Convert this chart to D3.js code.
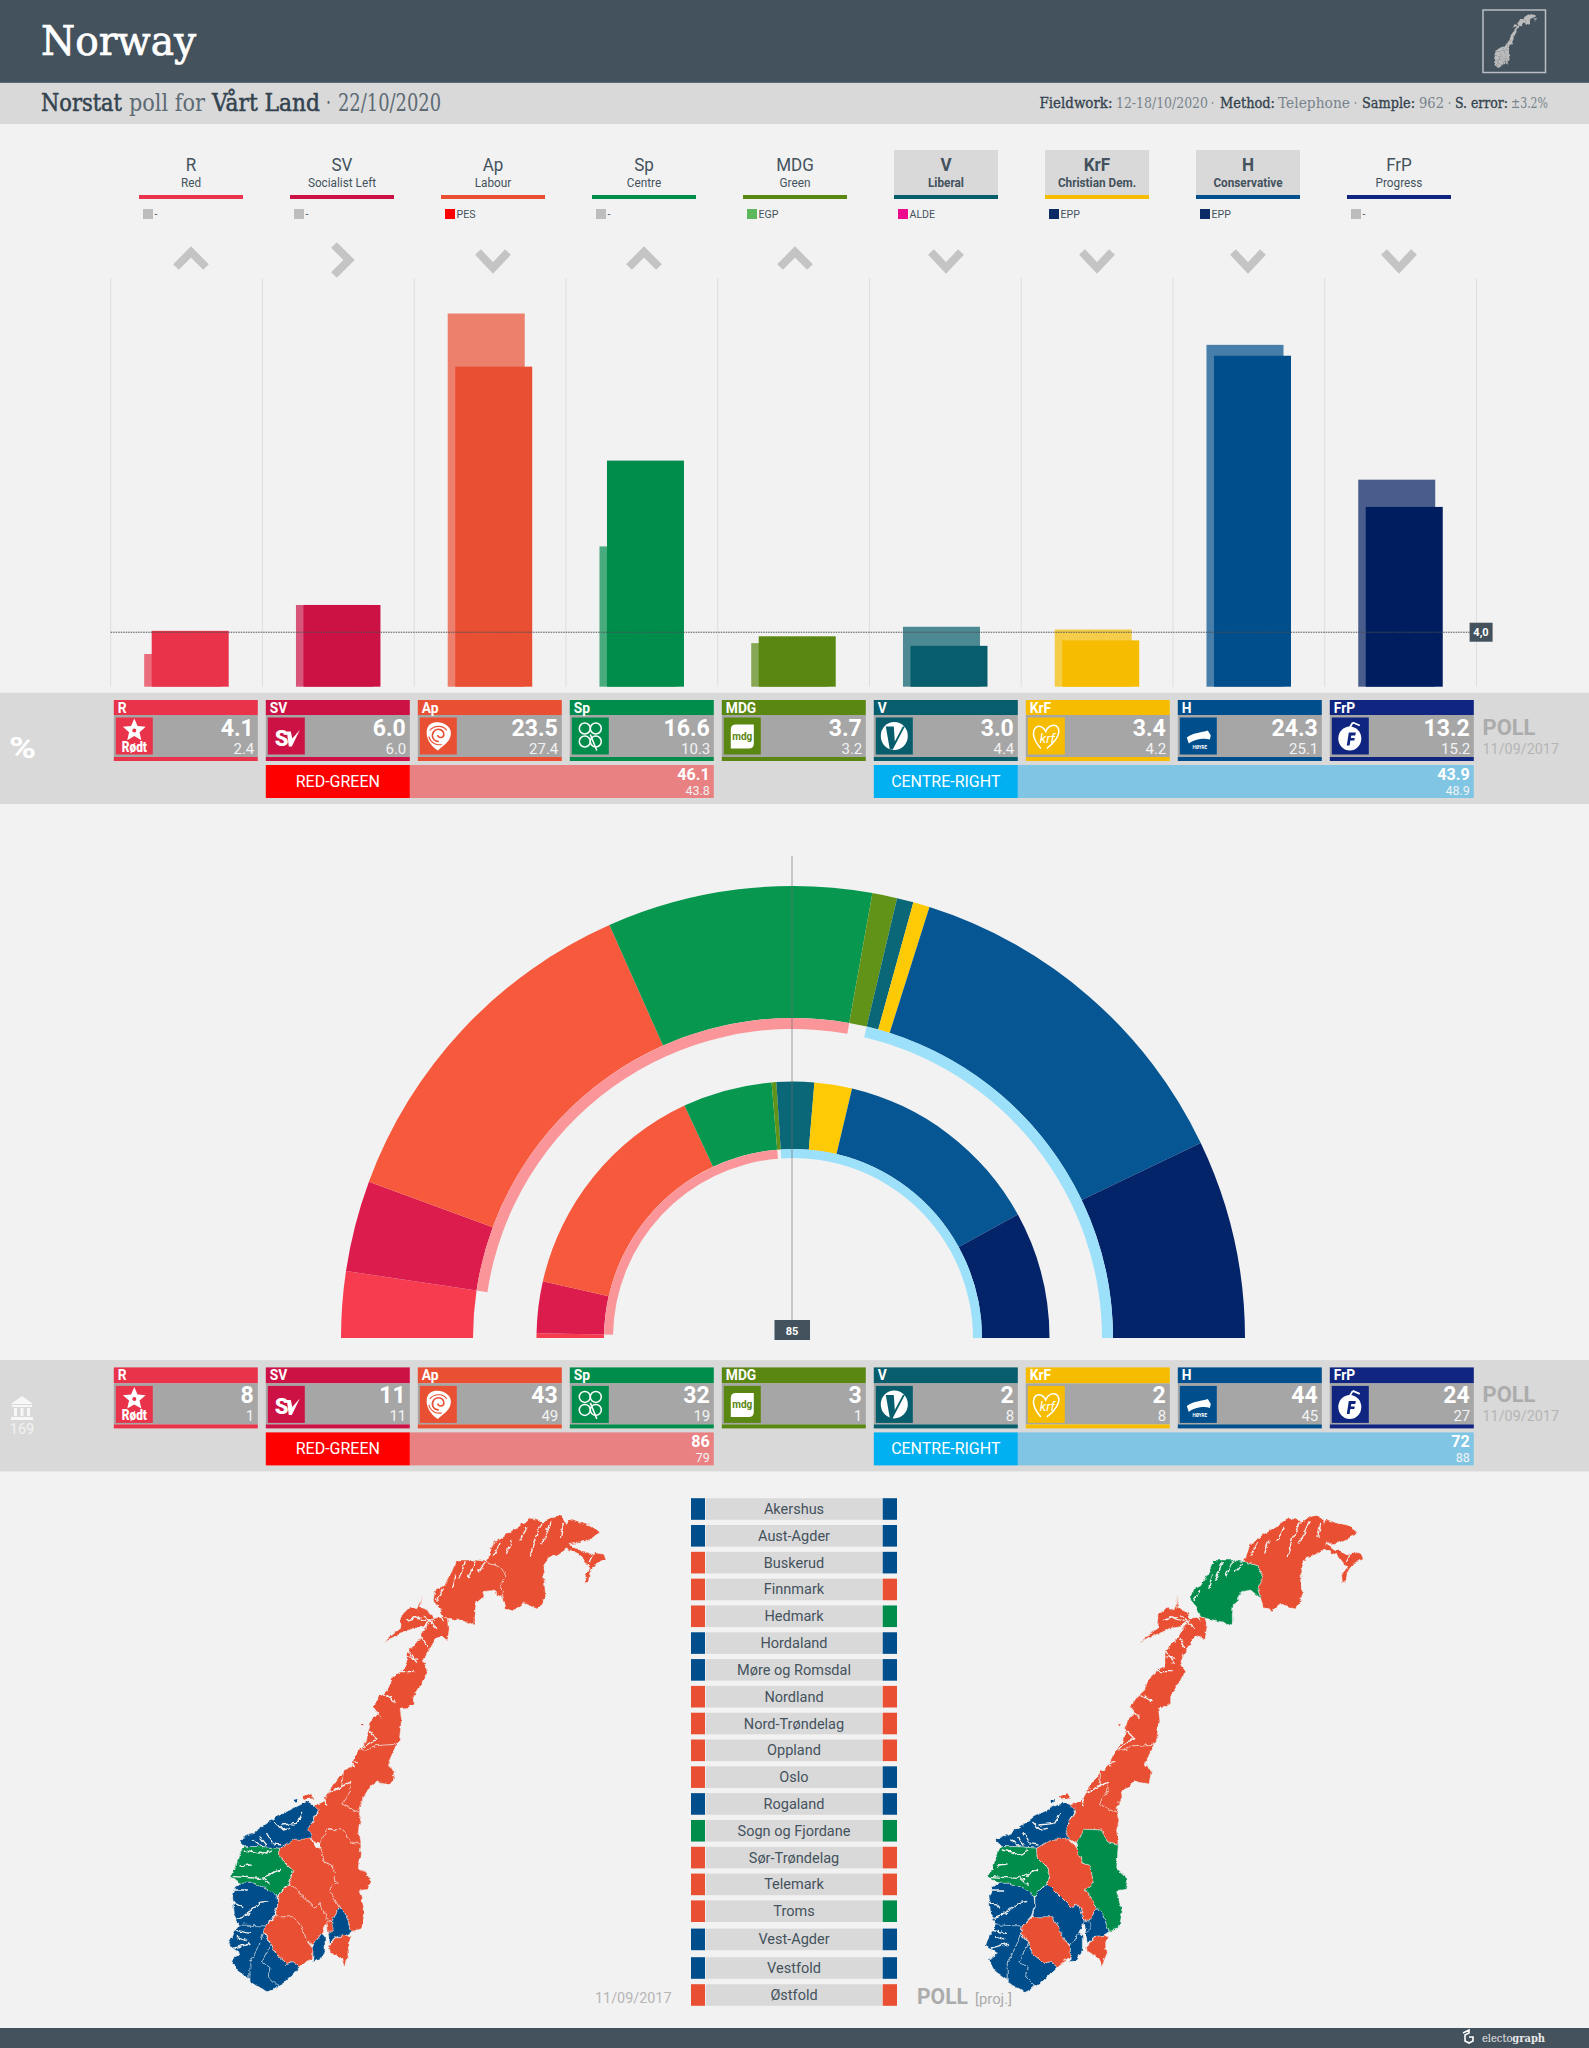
<!DOCTYPE html>
<html>
<head>
<meta charset="utf-8">
<title>Norway</title>
<script src="https://d3js.org/d3.v7.min.js"></script>
<style>
  html, body { margin: 0; background: #f2f2f2; }
  svg { display: block; }
  text { font-family: Roboto, sans-serif; }
  .slab text, text.slab { font-family: "DejaVu Serif Condensed", "DejaVu Serif", serif; }
</style>
</head>
<body>
<svg id="chart" width="1589" height="2048">
  <defs>
    <!-- serrilha a costa dos mapas -->
    <filter id="coast" filterUnits="userSpaceOnUse" x="150" y="1490" width="1300" height="530">
      <feTurbulence type="fractalNoise" baseFrequency="0.16" numOctaves="3" seed="4" result="n"/>
      <feDisplacementMap in="SourceGraphic" in2="n" scale="5" xChannelSelector="R" yChannelSelector="G"/>
    </filter>
  </defs>
</svg>
<script>
// --- dados ---
const parties = ['R', 'SV', 'Ap', 'Sp', 'MDG', 'V', 'KrF', 'H', 'FrP'];
const partyNames = ['Red', 'Socialist Left', 'Labour', 'Centre', 'Green', 'Liberal', 'Christian Dem.', 'Conservative', 'Progress'];
const euGroups = ['-', '-', 'PES', '-', 'EGP', 'ALDE', 'EPP', 'EPP', '-'];
const governing = ['V', 'KrF', 'H'];
const pollPct = [4.1, 6.0, 23.5, 16.6, 3.7, 3.0, 3.4, 24.3, 13.2];
const lastPct = [2.4, 6.0, 27.4, 10.3, 3.2, 4.4, 4.2, 25.1, 15.2];
const pollSeats = [8, 11, 43, 32, 3, 2, 2, 44, 24];
const lastSeats = [1, 11, 49, 19, 1, 8, 8, 45, 27];
const threshold = 4.0;
const majority = 85;
const totalSeats = 169;

const redGreen = ['SV', 'Ap', 'Sp'];
const centreRight = ['V', 'KrF', 'H', 'FrP'];
const blockPct = { rg: ['46.1', '43.8'], cr: ['43.9', '48.9'] };
const blockSeats = { rg: ['86', '79'], cr: ['72', '88'] };

const provinces = ['Akershus', 'Aust-Agder', 'Buskerud', 'Finnmark', 'Hedmark', 'Hordaland', 'Møre og Romsdal', 'Nordland', 'Nord-Trøndelag', 'Oppland', 'Oslo', 'Rogaland', 'Sogn og Fjordane', 'Sør-Trøndelag', 'Telemark', 'Troms', 'Vest-Agder', 'Vestfold', 'Østfold'];
const lastWinner = ['H', 'H', 'Ap', 'Ap', 'Ap', 'H', 'H', 'Ap', 'Ap', 'Ap', 'Ap', 'H', 'Sp', 'Ap', 'Ap', 'Ap', 'H', 'H', 'Ap'];
const pollWinner = ['H', 'H', 'H', 'Ap', 'Sp', 'H', 'H', 'Ap', 'Ap', 'Ap', 'H', 'H', 'Sp', 'Ap', 'Ap', 'Sp', 'H', 'H', 'Ap'];

// --- cores ---
const partyColors = ['#e8334a', '#cc1245', '#e95033', '#008d4b', '#5a8712', '#075d6b', '#f6bd00', '#004e8b', '#0f2580'];
const barColors = ['#e8334a', '#cc1245', '#e95033', '#008d4b', '#5a8712', '#075d6b', '#f6bd00', '#004e8b', '#001e5f'];
const arcColors = ['#f73c50', '#dd1c4e', '#f6593c', '#08974f', '#619318', '#0a6777', '#fec905', '#055693', '#04246a'];
const groupColors = { '-': '#bdbdbd', PES: '#ff0000', EGP: '#5cb85c', ALDE: '#ee0a8c', EPP: '#0c2a66' };
const dark = '#44525d';
const colorOf = p => partyColors[parties.indexOf(p)];
const barColorOf = p => barColors[parties.indexOf(p)];

// contornos dos condados, em unidades proprias do mapa
const countyShapes = {
  'Finnmark': [[1050,198],[1010,185],[1030,130],[1065,105],[1105,80],[1140,55],[1165,58],[1180,70],[1205,50],[1235,45],[1250,70],[1258,58],[1285,68],[1320,75],[1350,97],[1325,115],[1295,128],[1255,133],[1290,150],[1320,165],[1335,155],[1362,160],[1368,178],[1340,190],[1320,215],[1315,248],[1305,245],[1303,225],[1320,205],[1290,165],[1250,147],[1225,165],[1197,172],[1180,210],[1187,290],[1162,327],[1120,310],[1095,332],[1068,325],[1060,295],[1050,265],[1068,230]],
  'Troms': [[1050,198],[1068,230],[1050,265],[1060,295],[1030,270],[1005,275],[995,295],[978,310],[975,345],[975,375],[945,365],[895,355],[880,350],[868,322],[850,300],[855,270],[885,255],[905,215],[920,180],[945,180],[975,180],[1010,185]],
  'Nordland': [[880,350],[895,355],[898,385],[893,420],[870,405],[855,420],[835,455],[820,480],[832,515],[815,550],[790,590],[790,610],[775,622],[750,625],[755,660],[748,720],[740,733],[680,737],[650,750],[625,750],[650,720],[655,685],[660,660],[680,640],[668,620],[690,590],[712,570],[722,540],[770,497],[770,460],[805,420],[820,395],[850,355]],
  'Lofoten': [[688,435],[730,400],[752,385],[755,345],[780,320],[800,330],[815,285],[808,322],[835,330],[850,355],[820,380],[790,385],[745,405],[700,425]],
  'Nord-Trøndelag': [[740,733],[712,795],[733,812],[725,852],[683,845],[650,870],[635,905],[628,940],[600,925],[575,912],[600,875],[605,845],[575,860],[580,815],[600,800],[625,750],[650,750],[680,737]],
  'Sør-Trøndelag': [[575,912],[600,925],[628,940],[635,960],[628,990],[633,1033],[600,1025],[580,990],[530,988],[510,1030],[480,1017],[475,985],[505,935],[490,915],[520,905],[540,870],[580,815],[575,860],[605,845],[600,875]],
  'Møre og Romsdal': [[505,930],[475,985],[485,1017],[430,1020],[388,1045],[340,1040],[280,1040],[268,1018],[310,1000],[380,950],[430,925],[470,905],[490,915]],
  'Sogn og Fjordane': [[388,1045],[390,1075],[415,1100],[428,1110],[418,1150],[380,1187],[350,1165],[310,1150],[275,1150],[240,1130],[258,1100],[265,1070],[280,1040],[340,1040]],
  'Hordaland': [[275,1150],[310,1150],[350,1165],[380,1187],[383,1215],[370,1250],[345,1278],[300,1278],[268,1275],[250,1240],[245,1190],[255,1160]],
  'Rogaland': [[345,1278],[340,1300],[325,1345],[300,1390],[300,1440],[260,1410],[245,1380],[270,1360],[235,1335],[250,1300],[268,1275]],
  'Vest-Agder': [[340,1300],[365,1330],[335,1385],[360,1400],[355,1430],[385,1460],[350,1478],[300,1445],[300,1390],[325,1345]],
  'Aust-Agder': [[340,1300],[360,1320],[375,1360],[410,1390],[430,1385],[450,1400],[400,1450],[350,1478],[385,1460],[355,1430],[360,1400],[335,1385],[365,1330]],
  'Telemark': [[345,1278],[375,1250],[430,1250],[455,1280],[470,1320],[490,1345],[488,1370],[450,1400],[430,1385],[410,1390],[375,1360],[360,1320],[340,1300]],
  'Buskerud': [[383,1187],[420,1150],[495,1225],[510,1207],[530,1255],[545,1262],[525,1275],[515,1300],[490,1335],[470,1320],[455,1280],[430,1250],[375,1250],[383,1215]],
  'Oppland': [[388,1045],[430,1018],[480,1017],[510,1045],[525,1090],[550,1100],[558,1150],[537,1168],[568,1222],[545,1262],[530,1255],[510,1207],[495,1225],[420,1150],[428,1110],[390,1075]],
  'Hedmark': [[510,1030],[530,988],[580,990],[600,1025],[633,1033],[628,1105],[662,1135],[655,1168],[628,1172],[645,1235],[635,1285],[605,1295],[585,1240],[568,1222],[537,1168],[558,1150],[550,1100],[525,1090],[510,1045]],
  'Akershus': [[568,1222],[585,1240],[605,1295],[590,1305],[560,1310],[540,1330],[535,1300],[545,1262]],
  'Oslo': [[530,1262],[545,1262],[550,1290],[535,1298]],
  'Vestfold': [[490,1335],[515,1300],[525,1310],[525,1350],[510,1380],[488,1385]],
  'Østfold': [[560,1312],[590,1305],[605,1310],[595,1330],[597,1365],[583,1400],[575,1375],[540,1355],[537,1340]]
};
const mapIslands = [[[455,890],[480,880],[490,895],[465,898]], [[430,900],[442,897],[442,907],[432,907]], [[632,672],[640,672],[638,680]]];
const mapFjords = [
  [[1175,70],[1155,115],[1140,170]], [[1205,65],[1190,100],[1175,130]], [[1240,70],[1232,110]], [[1130,85],[1110,120]], [[1085,120],[1070,160]],
  [[1330,160],[1318,185]], [[1050,130],[1030,165]],
  [[1005,190],[985,215]], [[975,185],[955,230]], [[945,185],[925,240]], [[915,225],[905,265]], [[880,270],[860,300]],
  [[850,310],[880,365]], [[820,345],[860,385]], [[790,350],[830,365]], [[770,360],[810,350]], [[800,395],[835,440]], [[775,450],[800,490]], [[745,515],[795,515]], [[770,470],[805,475]],
  [[690,575],[735,605]], [[672,625],[695,655]], [[655,690],[680,715]], [[635,745],[680,715]], [[590,790],[622,785]], [[585,760],[610,800]],
  [[530,880],[605,845]], [[520,890],[530,915]], [[545,850],[570,815]],
  [[395,975],[440,970],[458,940]], [[350,1000],[370,1032],[392,1035]], [[310,1020],[338,1040]], [[420,985],[400,990],[375,965]], [[330,1010],[350,1035]],
  [[250,1130],[330,1135],[392,1108]], [[270,1098],[302,1095]], [[285,1050],[340,1062],[362,1050]], [[340,1135],[360,1152]], [[355,1130],[372,1115]],
  [[285,1245],[330,1210],[355,1205]], [[245,1170],[292,1170]], [[245,1205],[278,1222]], [[250,1290],[300,1300]], [[250,1345],[300,1330]], [[262,1255],[300,1240]], [[262,1310],[290,1320]]
];

// --- utilitarios ---
const svg = d3.select('#chart');

function label(g, x, y, txt, o = {}) {
  const t = g.append('text').attr('x', x).attr('y', y).text(txt)
    .attr('font-size', o.size || 14).attr('fill', o.fill || '#fff')
    .attr('font-weight', o.weight || 400).attr('text-anchor', o.anchor || 'start');
  if (o.cls) t.attr('class', o.cls);
  if (o.width) t.attr('textLength', o.width).attr('lengthAdjust', 'spacingAndGlyphs');
  if (o.squeeze) t.attr('textLength', t.node().getComputedTextLength() * o.squeeze).attr('lengthAdjust', 'spacingAndGlyphs');
  if (o.thick) t.attr('stroke', o.fill || '#fff').attr('stroke-width', o.thick);
  return t;
}
function box(g, x, y, w, h, fill) {
  return g.append('rect').attr('x', x).attr('y', y).attr('width', w).attr('height', h).attr('fill', fill);
}

// --- cabecalho ---
box(svg, 0, 0, 1589, 82, dark);
box(svg, 0, 82, 1589, 1.5, '#5d6a74');
box(svg, 0, 83, 1589, 41, '#d9d9d9');
label(svg, 41, 55, 'Norway', { size: 41, cls: 'slab', width: 155, thick: 0.7 });

const subDark = '#33434f', subPale = '#5c6a74';
[['Norstat', 41, 81, subDark, 0.5], ['poll for', 129, 76, subPale, 0], ['Vårt Land', 212, 108, subDark, 0.5], ['·', 326, 5, subPale, 0], ['22/10/2020', 338, 103, subPale, 0]]
  .forEach(([t, x, w, c, th]) => label(svg, x, 111, t, { size: 24, cls: 'slab', width: w, fill: c, thick: th }));
[['Fieldwork:', 1039.5, 73, subDark, 0.3], ['12-18/10/2020', 1116, 92, '#77838c', 0], ['·', 1211, 3, '#77838c', 0], ['Method:', 1220, 55, subDark, 0.3], ['Telephone', 1278, 72, '#77838c', 0], ['·', 1354, 3, '#77838c', 0], ['Sample:', 1362, 53, subDark, 0.3], ['962', 1419, 25, '#77838c', 0], ['·', 1448, 3, '#77838c', 0], ['S. error:', 1455, 53, subDark, 0.3], ['±3.2%', 1511, 37, '#77838c', 0]]
  .forEach(([t, x, w, c, th]) => label(svg, x, 108, t, { size: 14.5, cls: 'slab', width: w, fill: c, thick: th }));

// --- legenda dos partidos ---
const nameX = d3.scalePoint().domain(parties).range([191, 1399]);
parties.forEach((p, i) => {
  const cx = nameX(p), gov = governing.includes(p);
  if (gov) box(svg, cx - 52, 150, 104, 45, '#d9d9d9');
  label(svg, cx, 171, p, { size: 18.5, anchor: 'middle', fill: dark, weight: gov ? 700 : 400, squeeze: 0.92 });
  label(svg, cx, 187, partyNames[i], { size: 12, anchor: 'middle', fill: dark, weight: gov ? 700 : 400, squeeze: 0.98 });
  box(svg, cx - 52, 195, 104, 4, colorOf(p));
  box(svg, cx - 48, 209, 10, 10, groupColors[euGroups[i]]);
  label(svg, cx - 36.5, 218, euGroups[i], { size: 11.5, fill: dark, squeeze: 0.92 });

  const diff = pollPct[i] - lastPct[i];
  const pts = diff > 0 ? [[cx - 15, 267], [cx, 252], [cx + 15, 267]]
    : diff < 0 ? [[cx - 15, 252], [cx, 268], [cx + 15, 252]]
    : [[cx - 8, 245], [cx + 7, 260], [cx - 8, 275]];
  svg.append('path').attr('d', d3.line()(pts)).attr('fill', 'none').attr('stroke', '#c4c4c4').attr('stroke-width', 8);
});

// --- barras ---
const gridX = d3.scaleBand().domain(parties).range([110.7, 1476.5]);
const barY = d3.scaleLinear().domain([0, 30]).range([686.7, 278.1]);
const bars = svg.append('g');
bars.selectAll('line.grid').data(parties.concat('end')).join('line').attr('class', 'grid')
  .attr('x1', d => d === 'end' ? gridX.range()[1] : gridX(d)).attr('x2', d => d === 'end' ? gridX.range()[1] : gridX(d))
  .attr('y1', barY(30)).attr('y2', barY(0)).attr('stroke', '#dedede');
bars.selectAll('rect.last').data(parties).join('rect').attr('class', 'last')
  .attr('x', d => gridX(d) + 33.5).attr('width', 77)
  .attr('y', (d, i) => barY(lastPct[i])).attr('height', (d, i) => barY(0) - barY(lastPct[i]))
  .attr('fill', barColorOf).attr('opacity', 0.7);
bars.selectAll('rect.poll').data(parties).join('rect').attr('class', 'poll')
  .attr('x', d => gridX(d) + 41).attr('width', 77)
  .attr('y', (d, i) => barY(pollPct[i])).attr('height', (d, i) => barY(0) - barY(pollPct[i]))
  .attr('fill', barColorOf);
bars.append('line').attr('x1', 110.7).attr('x2', 1470).attr('y1', barY(threshold)).attr('y2', barY(threshold))
  .attr('stroke', '#4a4f55').attr('stroke-width', 1).attr('stroke-dasharray', '1.5 1');
box(bars, 1469.6, barY(threshold) - 9.5, 23, 19, dark);
label(bars, 1481, barY(threshold) + 4, threshold.toFixed(1).replace('.', ','), { size: 11, weight: 700, anchor: 'middle' });

// --- logotipos ---
const logos = {
  R(g, c) {
    const star = d3.range(10).map(k => {
      const a = -Math.PI / 2 + k * Math.PI / 5, r = k % 2 ? 5.5 : 12;
      return [18.5 + r * Math.cos(a), 13 + r * Math.sin(a)];
    });
    g.append('path').attr('d', d3.line()(star) + 'Z').attr('fill', '#fff');
    g.append('circle').attr('cx', 18.5).attr('cy', 13).attr('r', 2).attr('fill', c);
    label(g, 18.5, 34.5, 'Rødt', { size: 14, weight: 900, anchor: 'middle', squeeze: 0.85 });
  },
  SV(g) {
    label(g, 7, 28, 'S', { size: 22, weight: 900 });
    g.append('path').attr('d', 'M19 14 L23 14 L24.5 21 L32 12.5 L24 29 L21 29 Z').attr('fill', '#fff');
  },
  Ap(g, c) {
    g.append('path').attr('d', 'M18 33 C10 28 6 20 7 13 C8 6 14 4 20 5 C27 6 32 11 31 17 C30 25 23 28 18 33 Z').attr('fill', '#fff');
    g.append('path').attr('d', 'M19 24 C13 24 11 18 14 14 C17 10 24 12 24 17 C24 21 18 21 18 17.5').attr('fill', 'none').attr('stroke', c).attr('stroke-width', 1.6);
    g.append('path').attr('d', 'M10 13 C14 8 23 7 27 13 M9 19 C11 26 17 28 22 27').attr('fill', 'none').attr('stroke', c).attr('stroke-width', 1.1);
  },
  Sp(g) {
    [[13, 11, 5.5], [24, 11, 5.5], [13, 24, 5.5], [24, 24, 5.5]].forEach(([x, y, r]) =>
      g.append('circle').attr('cx', x).attr('cy', y).attr('r', r).attr('fill', 'none').attr('stroke', '#fff').attr('stroke-width', 1.5));
    g.append('path').attr('d', 'M18.5 17 L25 33').attr('stroke', '#fff').attr('stroke-width', 1.5);
  },
  MDG(g, c) {
    g.append('path').attr('d', 'M12 7 H30 V26 Q30 31 25 31 H7 V12 Q7 7 12 7 Z').attr('fill', '#fff');
    label(g, 18.5, 22, 'mdg', { size: 10, weight: 700, anchor: 'middle', fill: c });
  },
  V(g, c) {
    g.append('ellipse').attr('cx', 18.5).attr('cy', 18.5).attr('rx', 13.5).attr('ry', 14).attr('fill', '#fff');
    g.append('path').attr('d', 'M10 9 H18 L19 24 L27 9 L29 9 L17 32 L14 32 Z').attr('fill', c);
  },
  KrF(g) {
    g.append('path').attr('d', 'M13 31 C5 22 4 14 8 10 C12 7 16 10 18 14 C20 8 27 6 30 10 C34 16 26 26 19 31').attr('fill', 'none').attr('stroke', '#fff').attr('stroke-width', 1.5);
    label(g, 12, 25, 'krf', { size: 13, fill: '#fff' }).attr('font-style', 'italic');
  },
  H(g) {
    g.append('path').attr('d', 'M7 20 C14 15 22 15 28 13 L31 18 L30 22 C24 20 14 22 9 26 Z').attr('fill', '#fff');
    label(g, 20, 31, 'HØYRE', { size: 4.5, weight: 700, anchor: 'middle' });
  },
  FrP(g, c) {
    g.append('ellipse').attr('cx', 18).attr('cy', 21).attr('rx', 11.5).attr('ry', 12).attr('fill', '#fff');
    g.append('path').attr('d', 'M18 10 L21 5 M21 5 L28 8').attr('stroke', '#fff').attr('stroke-width', 1.8).attr('fill', 'none');
    g.append('path').attr('d', 'M15 28 L17 15 H24 L23.5 18 H19.5 L19 20.5 H23 L22.5 23 H18.5 L17.8 28 Z').attr('fill', c);
  }
};

// --- paineis de cartoes ---
const cardX = d3.scaleBand().domain(parties).range([113.8, 1473.8]).paddingInner(8 / 152);

function panel(dy, headH, current, last, fmt, blocks) {
  const g = svg.append('g').attr('transform', `translate(0,${dy})`);
  box(g, 0, 692.7, 1589, 111.3, '#d9d9d9');
  parties.forEach((p, i) => {
    const x = cardX(p), w = cardX.bandwidth(), c = colorOf(p);
    box(g, x, 700, w, headH + 15, c);
    box(g, x, 715 + headH, w, 42 - headH, '#a6a6a6');
    box(g, x, 757, w, 4, c);
    label(g, x + 4, 712.5 + headH * 0.6, p, { size: 15, weight: 700, squeeze: 0.92 });
    const lg = g.append('g').attr('transform', `translate(${x + 2},${717.5 + headH})`);
    box(lg, 0, 0, 37, 37, c);
    logos[p](lg, c);
    label(g, x + w - 4, 735.5 + headH * 0.6, fmt(current[i]), { size: 24, weight: 700, anchor: 'end', squeeze: 0.96 });
    label(g, x + w - 3.5, 754, fmt(last[i]), { size: 15, anchor: 'end', fill: '#f2f2f2' });
  });
  [[redGreen, 'RED-GREEN', '#ff0000', '#e98082', blocks.rg], [centreRight, 'CENTRE-RIGHT', '#00b0f0', '#80c6e4', blocks.cr]].forEach(([members, name, strong, pale, vals]) => {
    const x0 = cardX(members[0]), x1 = cardX(members[1]), x2 = cardX(members[members.length - 1]) + cardX.bandwidth();
    box(g, x1 - 8, 765, x2 - x1 + 8, 33, pale);
    box(g, x0, 765, x1 - 8 - x0, 33, strong);
    label(g, (x0 + x1 - 8) / 2, 787, name, { size: 17, anchor: 'middle', squeeze: 0.94 });
    label(g, x2 - 4, 780, vals[0], { size: 17, weight: 700, anchor: 'end', squeeze: 0.95 });
    label(g, x2 - 4, 795, vals[1], { size: 12.5, anchor: 'end', fill: '#f2f2f2' });
  });
  label(g, 1482.5, 735, 'POLL', { size: 21.5, weight: 700, fill: '#acacac', width: 53 });
  label(g, 1482.5, 754, '11/09/2017', { size: 14.5, fill: '#b5b5b5', width: 76.5 });
  return g;
}
const p1 = panel(0, 0, pollPct, lastPct, v => v.toFixed(1), blockPct);
label(p1, 9, 758, '%', { size: 30, weight: 700, width: 27 });
const p2 = panel(667.4, 1, pollSeats, lastSeats, v => String(v), blockSeats);
p2.append('path').attr('transform', 'translate(0,-667.4)')
  .attr('d', 'M22 1396 L33 1404 H11 Z M12 1405 H32 V1407 H12 Z M14 1408 H17 V1416 H14 Z M20.5 1408 H23.5 V1416 H20.5 Z M27 1408 H30 V1416 H27 Z M11 1417 H33 V1420 H11 Z')
  .attr('fill', '#f7f7f7');
label(p2, 22, 766.6, String(totalSeats), { size: 14.5, anchor: 'middle', fill: '#f2f2f2' });

// --- hemiciclo ---
const seatAngle = d3.scaleLinear().domain([0, totalSeats]).range([-Math.PI / 2, Math.PI / 2]);
const hemi = svg.append('g').attr('transform', 'translate(793,1338)');
const arc = d3.arc();

function ring(seats, r0, r1, bandR0, bandR1) {
  const ends = Array.from(d3.cumsum(seats));
  const span = names => {
    const a = parties.indexOf(names[0]), b = parties.indexOf(names[names.length - 1]);
    return [a ? ends[a - 1] : 0, ends[b]];
  };
  hemi.selectAll(null).data(seats).join('path')
    .attr('d', (d, i) => arc({ innerRadius: r0, outerRadius: r1, startAngle: seatAngle(i ? ends[i - 1] : 0), endAngle: seatAngle(ends[i]) }))
    .attr('fill', (d, i) => arcColors[i]);
  [[redGreen, '#fa9699'], [centreRight, '#9ce0fa']].forEach(([names, c]) => {
    const [s, e] = span(names);
    hemi.append('path').attr('d', arc({ innerRadius: bandR0, outerRadius: bandR1, startAngle: seatAngle(s), endAngle: seatAngle(e) })).attr('fill', c);
  });
}
ring(pollSeats, 320, 452, 309, 320);
ring(lastSeats, 189, 256.5, 180, 189);
hemi.append('line').attr('x1', -1).attr('x2', -1).attr('y1', -482).attr('y2', -18).attr('stroke', '#6e6e6e').attr('stroke-opacity', 0.65);
box(hemi, -18.5, -18, 35.5, 20, dark);
label(hemi, -1, -3.5, String(majority), { size: 11, weight: 700, anchor: 'middle' });

// --- mapas ---
const mapX = d3.scaleLinear().domain([0, 1500]).range([150, 650]);
const mapY = d3.scaleLinear().domain([0, 1560]).range([1500, 2020]);

function drawMap(xs, ys, winners, fjordWidth) {
  const g = svg.append('g');
  if (fjordWidth) g.attr('filter', 'url(#coast)');
  const line = d3.line().x(d => xs(d[0])).y(d => ys(d[1]));
  const colorFor = name => {
    if (!winners) return '#bbb';
    return barColorOf(winners[provinces.indexOf(name === 'Lofoten' ? 'Nordland' : name)]);
  };
  Object.entries(countyShapes).forEach(([name, pts]) => {
    g.append('path').attr('d', line(pts) + 'Z').attr('fill', colorFor(name))
      .attr('stroke', winners ? '#f2f2f2' : 'none').attr('stroke-width', 0.5);
  });
  if (!fjordWidth) return;
  mapIslands.forEach((pts, i) => g.append('path').attr('d', line(pts) + 'Z').attr('fill', i === 1 ? '#004e8b' : '#e95033'));
  mapFjords.forEach(pts => g.append('path').attr('d', line(pts)).attr('fill', 'none').attr('stroke', '#f2f2f2').attr('stroke-width', fjordWidth).attr('stroke-linecap', 'round'));
}
drawMap(mapX, mapY, lastWinner, 1.3);
drawMap(mapX.copy().range([907.3, 1407.3]), mapY, pollWinner, 1.3);

// miniatura no cabecalho
box(svg, 1483, 10, 62.5, 62.5, 'none').attr('stroke', '#b9bfc4').attr('stroke-width', 1.5);
drawMap(d3.scaleLinear().domain([235, 1368]).range([1494, 1537]), d3.scaleLinear().domain([45, 1478]).range([14, 68]), null, 0);

// --- tabela de provincias ---
const rowY = d3.scaleLinear().domain([0, 15, 16, 17, 18]).range([1509, 1911.2, 1939.4, 1968, 1995]);
const table = svg.append('g');
provinces.forEach((name, i) => {
  const y = rowY(i) - 10.8;
  box(table, 705.7, y, 176.5, 21.6, '#d9d9d9');
  box(table, 691, y, 14, 21.6, barColorOf(lastWinner[i]));
  box(table, 882.7, y, 14.3, 21.6, barColorOf(pollWinner[i]));
  label(table, 794, rowY(i) + 5, name, { size: 14.5, anchor: 'middle', fill: dark });
});
label(svg, 595, 2003, '11/09/2017', { size: 14.5, fill: '#b5b5b5', width: 76.5 });
label(svg, 917, 2003.5, 'POLL', { size: 21.5, weight: 700, fill: '#acacac', width: 51 });
label(svg, 975, 2003.5, '[proj.]', { size: 15, fill: '#acacac', width: 37 });

// --- rodape ---
box(svg, 0, 2028, 1589, 20, dark);
svg.append('path').attr('d', 'M1463 2033 L1469 2030 L1469 2033 L1465 2035 L1465 2041 L1469 2043 L1473 2041 L1473 2037 L1469 2037')
  .attr('fill', 'none').attr('stroke', '#fff').attr('stroke-width', 1.6);
const foot = label(svg, 1482, 2041.5, 'electo', { size: 11, fill: '#e8e8e8', cls: 'slab' });
foot.append('tspan').text('graph').attr('font-weight', 700);
</script>
</body>
</html>
